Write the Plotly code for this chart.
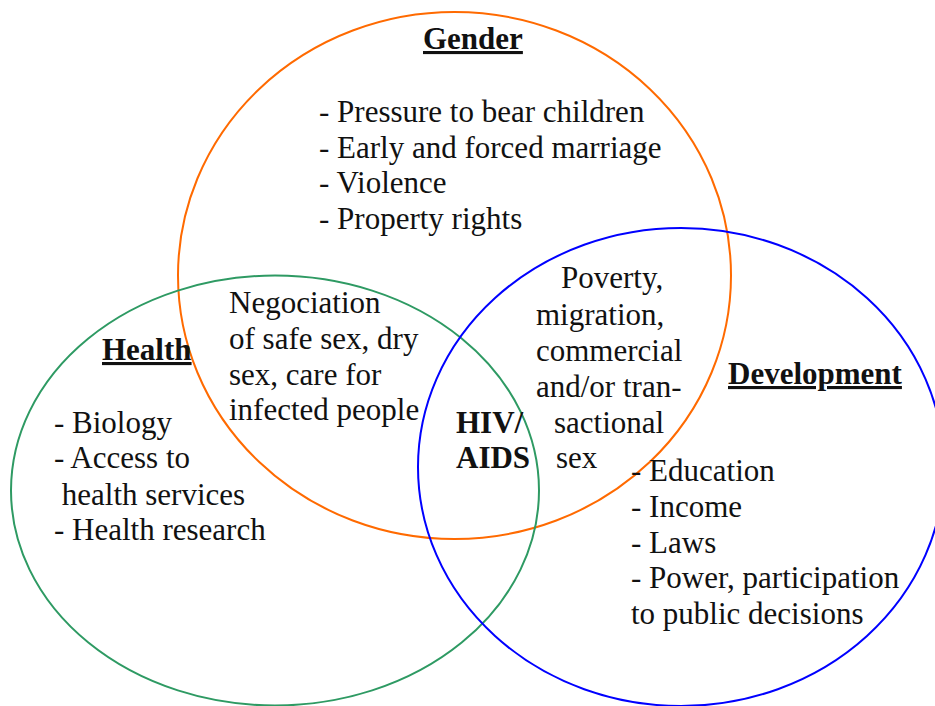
import plotly.graph_objects as go

# ---- data ----
circle_names = ["Gender", "Health", "Development"]
circle_cx = [454.5, 275, 681]
circle_cy = [275.5, 490.5, 467]
circle_rx = [276.5, 264, 263]
circle_ry = [263.5, 215, 239]
circle_colors = ["#FF6A00", "#2E9A63", "#0000FF"]

gender_items = ["- Pressure to bear children", "- Early and forced marriage", "- Violence", "- Property rights"]
health_items = ["- Biology", "- Access to", " health services", "- Health research"]
dev_items = ["- Education", "- Income", "- Laws", "- Power, participation", "to public decisions"]
gh_items = ["Negociation", "of safe sex, dry", "sex, care for", "infected people"]
gd_items = ["Poverty,", "migration,", "commercial", "and/or tran-", "sactional", "sex"]
center_items = ["HIV/", "AIDS"]

# ---- layout positions (pixels, y downward baselines) ----
FONT = "Liberation Serif"
FS = 31
OFF = 10.5  # baseline -> middle offset

fig = go.Figure()
W, H = 935, 706

shapes = []
for cx, cy, rx, ry, col in zip(circle_cx, circle_cy, circle_rx, circle_ry, circle_colors):
    shapes.append(dict(type="circle", xref="x", yref="y",
                       x0=cx - rx, x1=cx + rx, y0=cy - ry, y1=cy + ry,
                       line=dict(color=col, width=2), fillcolor="rgba(0,0,0,0)"))

annotations = []

def add_lines(items, xs, baselines, bold=False):
    for t, x, b in zip(items, xs, baselines):
        txt = f"<b>{t}</b>" if bold else t
        annotations.append(dict(x=x, y=b - OFF, xref="x", yref="y", text=txt,
                                showarrow=False, xanchor="left", yanchor="middle",
                                font=dict(family=FONT, size=FS, color="#111111"),
                                borderpad=0))

def add_title(name, x, baseline):
    annotations.append(dict(x=x, y=baseline - OFF, xref="x", yref="y",
                            text=f"<b><u>{name}</u></b>",
                            showarrow=False, xanchor="left", yanchor="middle",
                            font=dict(family=FONT, size=FS, color="#111111"),
                            borderpad=0))

add_title(circle_names[0], 422, 49)
add_title(circle_names[1], 101, 360)
add_title(circle_names[2], 727, 384)

add_lines(gender_items, [318] * 4, [122, 158, 193, 229])
add_lines(health_items, [53, 53, 53, 53], [433, 468, 505, 540])
add_lines(dev_items, [630] * 5, [481, 517, 553, 588, 624])
add_lines(gh_items, [228] * 4, [313, 349, 385, 420])
add_lines(gd_items, [560, 535, 535, 535, 553, 555], [288, 325, 361, 397, 433, 468])
add_lines(center_items, [455, 455], [433, 468], bold=True)

fig.update_layout(
    width=W, height=H,
    margin=dict(l=0, r=0, t=0, b=0),
    paper_bgcolor="white", plot_bgcolor="white",
    xaxis=dict(range=[0, W], visible=False, fixedrange=True),
    yaxis=dict(range=[H, 0], visible=False, fixedrange=True),
    shapes=shapes, annotations=annotations, showlegend=False,
)

fig.write_html("out.html", config={"displayModeBar": False},
               post_script="document.body.style.margin='0px';document.body.style.overflow='hidden';")
